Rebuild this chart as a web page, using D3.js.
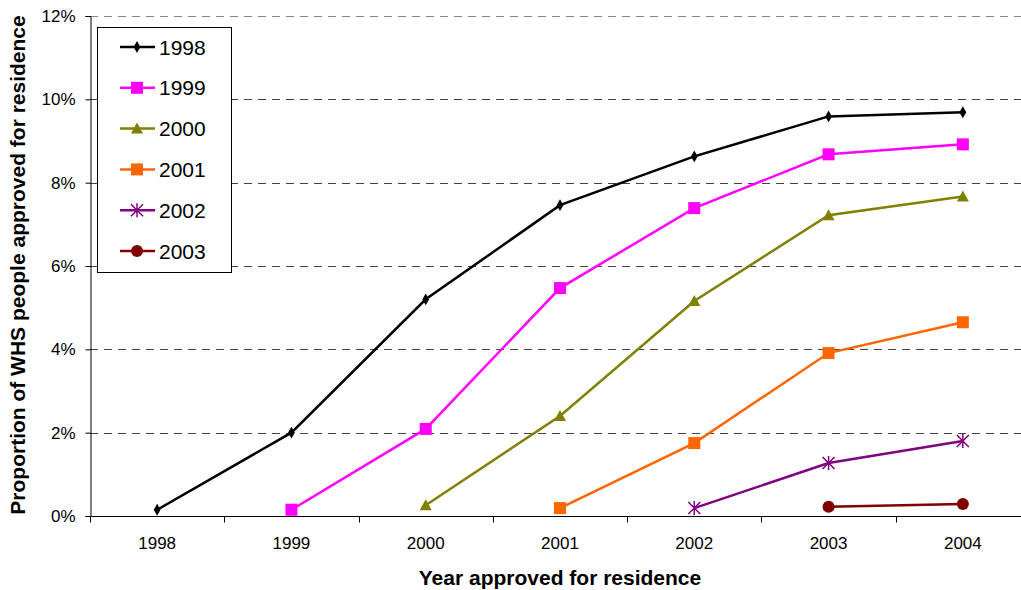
<!DOCTYPE html>
<html>
<head>
<meta charset="utf-8">
<script src="https://cdn.jsdelivr.net/npm/d3@7"></script>
<style>
  body { margin: 0; background: #fff; }
  text { font-family: Arial, "Liberation Sans", sans-serif; }
</style>
</head>
<body>
<div id="chart"></div>
<script>
const width = 1021,
    height = 590;

// x categories: year approved for residence
const years = ["1998", "1999", "2000", "2001", "2002", "2003", "2004"];
const yTicks = [0, 0.02, 0.04, 0.06, 0.08, 0.10, 0.12];

// cohorts (year of WHS visa) and their cumulative proportions
const cohorts = ["1998", "1999", "2000", "2001", "2002", "2003"];
const colors = ["#000000", "#ff00ff", "#808000", "#ff6600", "#800080", "#800000"];
const markers = ["diamond", "square", "triangle", "square", "star", "circle"];

const values1998 = [0.0015, 0.0200, 0.0520, 0.0746, 0.0863, 0.0959, 0.0969];
const values1999 = [null, 0.0015, 0.0209, 0.0547, 0.0739, 0.0868, 0.0892];
const values2000 = [null, null, 0.0026, 0.0240, 0.0516, 0.0722, 0.0767];
const values2001 = [null, null, null, 0.0019, 0.0175, 0.0391, 0.0465];
const values2002 = [null, null, null, null, 0.0019, 0.0127, 0.0180];
const values2003 = [null, null, null, null, null, 0.0022, 0.0029];
const seriesValues = [values1998, values1999, values2000, values2001, values2002, values2003];

const margin = {left: 90, top: 16, right: -9, bottom: 74};

const svg = d3.select('#chart').append('svg')
    .attr('width', width)
    .attr('height', height);

const x = d3.scaleBand()
    .domain(years)
    .range([margin.left, width - margin.right]);

const y = d3.scaleLinear()
    .domain([0, 0.12])
    .range([height - margin.bottom, margin.top]);

// dashed gridlines
svg.append("g")
    .selectAll("line")
    .data(yTicks.slice(1))
    .enter()
    .append("line")
    .attr("x1", margin.left)
    .attr("x2", width - margin.right)
    .attr("y1", d => Math.round(y(d)) + 0.5)
    .attr("y2", d => Math.round(y(d)) + 0.5)
    .attr("stroke", d => d === 0.12 ? "#888" : "#444")
    .attr("stroke-width", 1)
    .attr("stroke-dasharray", "8,6");

// y axis
const yAxis = svg.append("g")
    .attr("transform", `translate(${margin.left + 0.5},0)`)
    .call(d3.axisLeft(y).tickValues(yTicks).tickFormat(d3.format(".0%")).tickSize(5).tickPadding(10));
yAxis.select(".domain").attr("stroke", "#000");
yAxis.selectAll(".tick line").attr("stroke", "#000");
yAxis.selectAll(".tick text")
    .attr("font-size", 17)
    .attr("fill", "#000");

// x axis: ticks between categories
const xAxis = svg.append("g")
    .attr("transform", `translate(0,${Math.round(y(0)) + 0.5})`);
xAxis.append("line")
    .attr("x1", margin.left)
    .attr("x2", width)
    .attr("stroke", "#000");
xAxis.selectAll(".tk")
    .data(years)
    .enter()
    .append("line")
    .attr("class", "tk")
    .attr("x1", d => Math.round(x(d)) + 0.5)
    .attr("x2", d => Math.round(x(d)) + 0.5)
    .attr("y1", 0)
    .attr("y2", 6)
    .attr("stroke", "#000");
xAxis.selectAll("text")
    .data(years)
    .enter()
    .append("text")
    .attr("x", d => x(d) + x.bandwidth() / 2)
    .attr("y", 32)
    .attr("text-anchor", "middle")
    .attr("font-size", 17)
    .text(d => d);

// axis titles
svg.append("text")
    .attr("x", 560)
    .attr("y", 585)
    .attr("text-anchor", "middle")
    .attr("font-size", 21)
    .attr("font-weight", "bold")
    .text("Year approved for residence");

svg.append("text")
    .attr("transform", "translate(25,265) rotate(-90)")
    .attr("text-anchor", "middle")
    .attr("font-size", 21)
    .attr("font-weight", "bold")
    .text("Proportion of WHS people approved for residence");

function drawMarker(g, type, color) {
    if (type === "diamond") {
        g.append("path").attr("d", d3.symbol(d3.symbolDiamond, 40)()).attr("fill", color);
    } else if (type === "square") {
        g.append("rect").attr("x", -6).attr("y", -6).attr("width", 12).attr("height", 12).attr("fill", color);
    } else if (type === "triangle") {
        g.append("path").attr("d", "M0,-6L6,5L-6,5Z").attr("fill", color);
    } else if (type === "circle") {
        g.append("circle").attr("r", 6).attr("fill", color);
    } else if (type === "star") {
        const s = 6;
        g.append("path")
            .attr("d", `M${-s},${-s}L${s},${s}M${-s},${s}L${s},${-s}M0,${-s - 1}L0,${s + 1}`)
            .attr("stroke", color)
            .attr("stroke-width", 1.5)
            .attr("fill", "none");
    }
}

const cx = d => x(d) + x.bandwidth() / 2;

// series lines + markers
cohorts.forEach((c, i) => {
    const pts = years.map((yr, j) => ({year: yr, value: seriesValues[i][j]}))
        .filter(p => p.value !== null);
    const line = d3.line().x(p => cx(p.year)).y(p => y(p.value));
    const g = svg.append("g");
    g.append("path")
        .datum(pts)
        .attr("d", line)
        .attr("fill", "none")
        .attr("stroke", colors[i])
        .attr("stroke-width", 2.5);
    pts.forEach(p => {
        const m = g.append("g").attr("transform", `translate(${cx(p.year)},${y(p.value)})`);
        drawMarker(m, markers[i], colors[i]);
    });
});

// legend
const legend = svg.append("g");
legend.append("rect")
    .attr("x", 97.5)
    .attr("y", 27.5)
    .attr("width", 134)
    .attr("height", 245)
    .attr("fill", "#fff")
    .attr("stroke", "#000");

cohorts.forEach((c, i) => {
    const ly = 47 + i * 40.8;
    const lg = legend.append("g");
    lg.append("line")
        .attr("x1", 120)
        .attr("x2", 155)
        .attr("y1", ly)
        .attr("y2", ly)
        .attr("stroke", colors[i])
        .attr("stroke-width", 2.5);
    const m = lg.append("g").attr("transform", `translate(137,${ly})`);
    drawMarker(m, markers[i], colors[i]);
    lg.append("text")
        .attr("x", 159)
        .attr("y", ly + 7.5)
        .attr("font-size", 21)
        .text(c);
});
</script>
</body>
</html>
